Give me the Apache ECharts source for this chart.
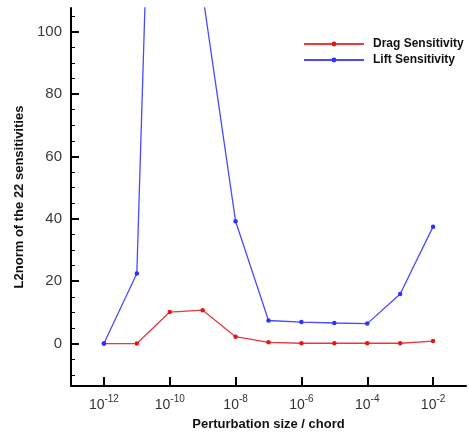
<!DOCTYPE html>
<html>
<head>
<meta charset="utf-8">
<script src="https://cdn.jsdelivr.net/npm/echarts@6/dist/echarts.min.js"></script>
<style>
html,body{margin:0;padding:0;background:#fff;}
#c{width:469px;height:434px;}
</style>
</head>
<body>
<div id="c"></div>
<script>
// Perturbation sizes (x, per chord)
const perturbation = [1e-12, 1e-11, 1e-10, 1e-9, 1e-8, 1e-7, 1e-6, 1e-5, 1e-4, 1e-3, 1e-2];
// L2 norm of the 22 sensitivities
const dragSensitivity = [0, 0, 10.1, 10.7, 2.2, 0.4, 0.1, 0.1, 0.1, 0.1, 0.8];
const liftSensitivity = [0, 22.5, 370, 112, 39.2, 7.4, 6.9, 6.6, 6.4, 15.9, 37.5];
// Tick labels
const xTicks = [1e-12, 1e-10, 1e-8, 1e-6, 1e-4, 1e-2];
const yTicks = [0, 20, 40, 60, 80, 100];
const yMinorTicks = [-10, -5, 0, 5, 10, 15, 20, 25, 30, 35, 40, 45, 50, 55, 60, 65, 70, 75, 80, 85, 90, 95, 100, 105];

const pairs = (ys) => perturbation.map((x, i) => [x, ys[i]]);

const chart = echarts.init(document.getElementById('c'), null, {renderer: 'canvas'});
const yMin = -13.6, yMax = 107.6;
chart.setOption({
  animation: false,
  backgroundColor: '#fff',
  grid: {left: 71, right: 3, top: 8, bottom: 48, containLabel: false, outerBoundsMode: 'none'},
  legend: {
    orient: 'vertical',
    left: 303,
    top: 37,
    padding: 0,
    itemWidth: 60,
    itemHeight: 6,
    itemGap: 2,
    textStyle: {fontFamily: 'Liberation Sans, Arial', fontWeight: 'bold', fontSize: 12, color: '#111', padding: [0, 0, 0, 4], lineHeight: 14},
    data: ['Drag Sensitivity', 'Lift Sensitivity']
  },
  xAxis: {
    type: 'log',
    logBase: 10,
    min: 1e-13,
    max: 1e-1,
    name: 'Perturbation size / chord',
    nameLocation: 'middle',
    nameGap: 32,
    nameTextStyle: {fontFamily: 'Liberation Sans, Arial', fontWeight: 'bold', fontSize: 13, color: '#111'},
    axisLine: {show: true, onZero: false, lineStyle: {color: '#000', width: 2}},
    axisTick: {show: true, inside: true, length: 9, lineStyle: {color: '#000', width: 2}, customValues: xTicks},
    minorTick: {show: false},
    splitLine: {show: false},
    axisLabel: {
      customValues: xTicks,
      margin: 8,
      formatter: function (v) {
        const e = Math.round(Math.log10(v));
        return '{b|10}{s|' + e + '}';
      },
      rich: {
        b: {fontFamily: 'Liberation Sans, Arial', fontSize: 14, color: '#333', verticalAlign: 'bottom', lineHeight: 18},
        s: {fontFamily: 'Liberation Sans, Arial', fontSize: 10, color: '#333', verticalAlign: 'top', lineHeight: 18}
      }
    }
  },
  yAxis: [{
    type: 'value',
    position: 'left',
    min: yMin,
    max: yMax,
    name: 'L2norm of the 22 sensitivities',
    nameLocation: 'middle',
    nameGap: 42,
    nameTextStyle: {fontFamily: 'Liberation Sans, Arial', fontWeight: 'bold', fontSize: 13, color: '#111'},
    axisLine: {show: true, onZero: false, lineStyle: {color: '#000', width: 2}},
    axisTick: {show: true, inside: true, length: 8, lineStyle: {color: '#000', width: 2}, customValues: yTicks},
    splitLine: {show: false},
    axisLabel: {
      customValues: yTicks,
      margin: 9,
      fontFamily: 'Liberation Sans, Arial',
      fontSize: 15,
      color: '#3a3a3a'
    }
  }, {
    type: 'value',
    position: 'left',
    offset: 0,
    min: yMin,
    max: yMax,
    axisLine: {show: false},
    axisTick: {show: true, inside: true, length: 4, lineStyle: {color: '#000', width: 1}, customValues: yMinorTicks},
    axisLabel: {show: false},
    splitLine: {show: false}
  }],
  series: [{
    name: 'Drag Sensitivity',
    type: 'line',
    yAxisIndex: 0,
    data: pairs(dragSensitivity),
    symbol: 'circle',
    symbolSize: 4.5,
    color: '#e01818',
    lineStyle: {width: 1.3, color: '#e83a3a'},
    clip: true
  }, {
    name: 'Lift Sensitivity',
    type: 'line',
    yAxisIndex: 0,
    data: pairs(liftSensitivity),
    symbol: 'circle',
    symbolSize: 4.5,
    color: '#3030ff',
    lineStyle: {width: 1.3, color: '#4a4aff'},
    clip: true
  }]
});
</script>
</body>
</html>
